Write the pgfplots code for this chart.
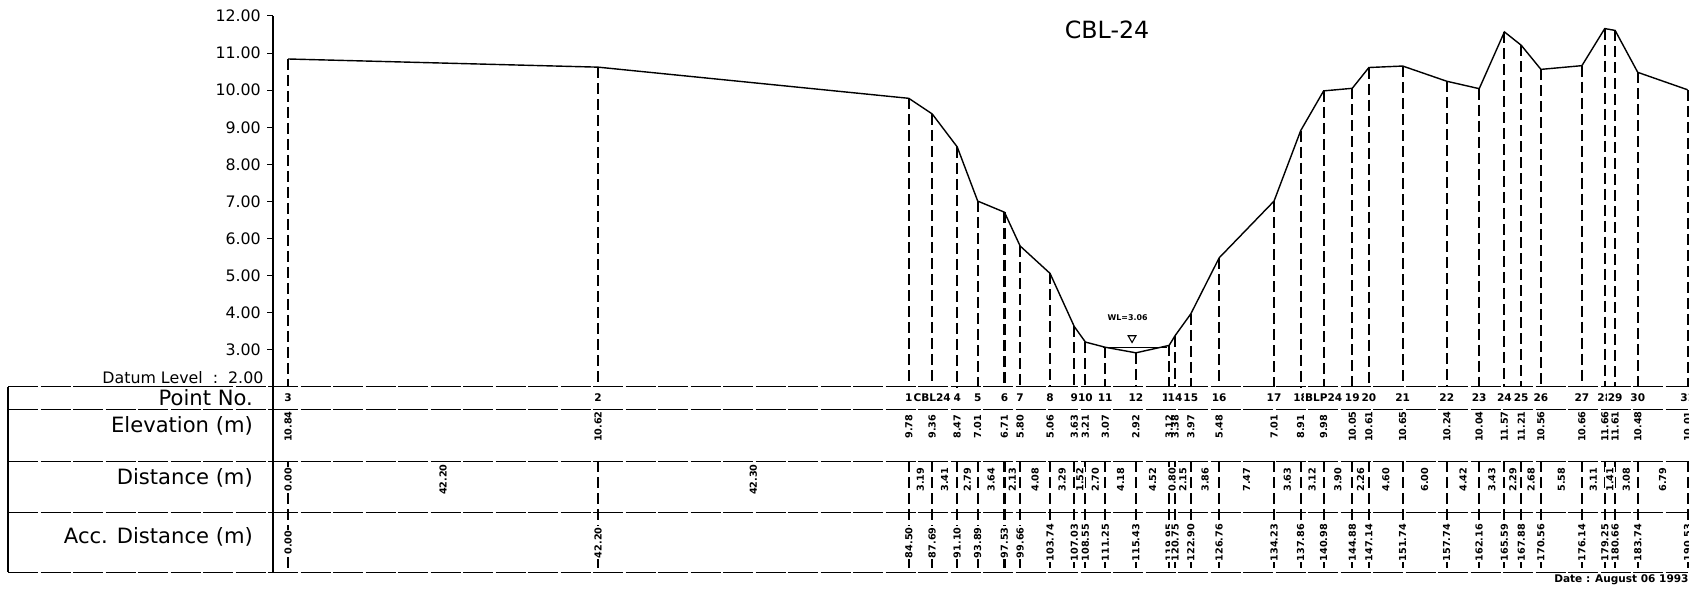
\documentclass[border=0pt]{standalone}
\usepackage{pgfplots}
\pgfplotsset{compat=1.18}
\usepackage{pgfplotstable}
\usepackage{fontspec}
\setmainfont{DejaVu Sans}

% cross-section CBL-24: point, acc. distance, elevation, distance from previous point
\pgfplotstableread{
name  acc    elev   dist
3     0.00   10.84  0.00
2     42.20  10.62  42.20
1     84.50  9.78   42.30
CBL24 87.69  9.36   3.19
4     91.10  8.47   3.41
5     93.89  7.01   2.79
6     97.53  6.71   3.64
7     99.66  5.80   2.13
8     103.74 5.06   4.08
9     107.03 3.63   3.29
10    108.55 3.21   1.52
11    111.25 3.07   2.70
12    115.43 2.92   4.18
13    119.95 3.12   4.52
14    120.75 3.38   0.80
15    122.90 3.97   2.15
16    126.76 5.48   3.86
17    134.23 7.01   7.47
18    137.86 8.91   3.63
BLP24 140.98 9.98   3.12
19    144.88 10.05  3.90
20    147.14 10.61  2.26
21    151.74 10.65  4.60
22    157.74 10.24  6.00
23    162.16 10.04  4.42
24    165.59 11.57  3.43
25    167.88 11.21  2.29
26    170.56 10.56  2.68
27    176.14 10.66  5.58
28    179.25 11.66  3.11
29    180.66 11.61  1.41
30    183.74 10.48  3.08
31    190.53 10.01  6.79
}\profile

\begin{document}
\begin{tikzpicture}
\begin{axis}[
    x=1.4692mm, y=7.42mm,
    xmin=-2.04, xmax=190.53,
    ymin=-3.0, ymax=12,
    axis x line=none,
    axis y line=left,
    axis line style={-, line width=1.1pt},
    ytick={3,...,12},
    tick align=outside,
    major tick length=1.2mm,
    y tick style={line width=0.6pt, black},
    /pgf/number format/assume math mode=true,
    yticklabel style={font=\fontsize{9}{9}\selectfont,
        /pgf/number format/fixed, /pgf/number format/fixed zerofill,
        /pgf/number format/precision=2},
    clip=false,
    every node near coord/.append style={anchor=center, inner sep=0.6pt},
]
% table rows
\addplot[black, line width=0.6pt, dash pattern=on 6mm off 0.5mm] coordinates {(-38.1,2) (190.53,2)};
\addplot[black, line width=0.6pt, dash pattern=on 6mm off 0.5mm] coordinates {(-38.1,1.38) (190.53,1.38)};
\addplot[black, line width=0.6pt, dash pattern=on 6mm off 0.5mm] coordinates {(-38.1,0) (190.53,0)};
\addplot[black, line width=0.6pt, dash pattern=on 6mm off 0.5mm] coordinates {(-38.1,-1.38) (190.53,-1.38)};
\addplot[black, line width=0.6pt, dash pattern=on 6mm off 0.5mm] coordinates {(-38.1,-3.0) (190.53,-3.0)};
\addplot[black, line width=0.8pt] coordinates {(-38.1,2) (-38.1,-3.0)};

% dashed verticals: profile to datum, and through the distance rows
\addplot[draw=none, mark=none, error bars/.cd, y dir=minus, y explicit, error mark=none,
    error bar style={draw=black, solid, line width=1.2pt, dash pattern=on 2.2mm off 1mm}]
    table[x=acc, y=elev, y error expr=\thisrow{elev}-2] {\profile};
\addplot[draw=none, mark=none, error bars/.cd, y dir=minus, y explicit, error mark=none,
    error bar style={draw=black, solid, line width=1.2pt, dash pattern=on 2.2mm off 1mm}]
    table[x=acc, y expr=0, y error expr=3.0] {\profile};

% ground profile
\addplot[black, line width=0.8pt, mark=none] table[x=acc, y=elev] {\profile};

% water level
\addplot[black, line width=0.3pt, mark=none] coordinates {(111.0,3.06) (119.7,3.06)};
\addplot[only marks, mark=triangle, mark size=0.9mm, mark options={rotate=180, black, line width=0.6pt}]
    coordinates {(114.9,3.32)};

% row values
\addplot[draw=none, mark=none, point meta=explicit symbolic, nodes near coords,
    every node near coord/.append style={font=\fontsize{6}{6}\selectfont\bfseries, fill=white}]
    table[x=acc, y expr=1.72, meta=name] {\profile};
\addplot[draw=none, mark=none, point meta=explicit symbolic, nodes near coords,
    every node near coord/.append style={font=\fontsize{5.5}{5.5}\selectfont\bfseries, rotate=90}]
    table[x=acc, y expr=0.93, meta=elev] {\profile};
\addplot[draw=none, mark=none, point meta=explicit symbolic, nodes near coords,
    every node near coord/.append style={font=\fontsize{5.5}{5.5}\selectfont\bfseries, rotate=90, fill=white}]
    table[x expr=\thisrow{acc}-0.5*\thisrow{dist}, y expr=-0.5, meta=dist] {\profile};
\addplot[draw=none, mark=none, point meta=explicit symbolic, nodes near coords,
    every node near coord/.append style={font=\fontsize{5.5}{5.5}\selectfont\bfseries, rotate=90, fill=white}]
    table[x=acc, y expr=-2.2, meta=acc] {\profile};

% labels
\node[anchor=east, font=\fontsize{12}{12}\selectfont] at (axis cs:-3.95,1.70) {Point No.};
\node[anchor=east, font=\fontsize{12}{12}\selectfont] at (axis cs:-3.95,0.95) {Elevation (m)};
\node[anchor=east, font=\fontsize{12}{12}\selectfont] at (axis cs:-3.95,-0.45) {Distance (m)};
\node[anchor=east, font=\fontsize{12}{12}\selectfont] at (axis cs:-3.95,-2.05) {Acc. Distance (m)};
\node[anchor=base east, font=\fontsize{9}{9}\selectfont, inner sep=0pt] at (axis cs:-3.3,2.08)
    {\underline{Datum~Level~~:~}~2.00};
\node[font=\fontsize{13.5}{13.5}\selectfont] at (axis cs:111.5,11.62) {CBL-24};
\node[font=\fontsize{4.5}{4.5}\selectfont\bfseries] at (axis cs:114.3,3.86) {WL=3.06};
\node[anchor=east, font=\fontsize{6}{6}\selectfont\bfseries, inner sep=0pt] at (axis cs:190.7,-3.2)
    {Date : August 06 1993};

\coordinate (bbl) at (axis cs:-39.205,-3.714);
\coordinate (btr) at (axis cs:190.72,12.43);
\end{axis}
\pgfresetboundingbox
\path[use as bounding box] (bbl) rectangle (btr);
\end{tikzpicture}
\end{document}
